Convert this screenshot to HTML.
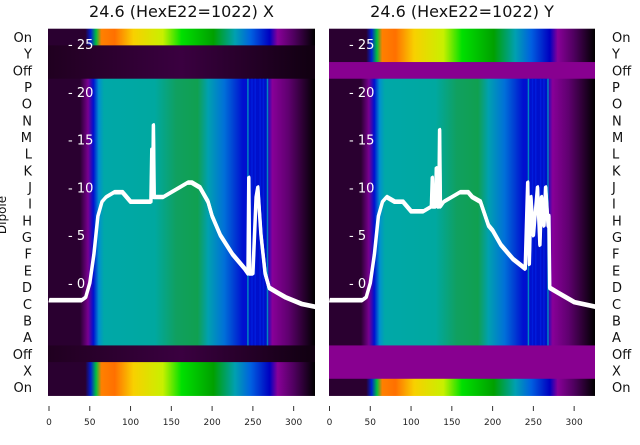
<!DOCTYPE html>
<html><head><meta charset="utf-8"><style>
body{margin:0;background:#fff;font-family:"Liberation Sans","DejaVu Sans",sans-serif}
svg text{font-family:"DejaVu Sans","Liberation Sans",sans-serif}
</style></head><body>
<svg id="c" width="640" height="440" viewBox="0 0 640 440">
<defs>
<linearGradient id="gMain" x1="0" x2="1">
<stop offset="0" stop-color="#2a0030"/><stop offset="0.12" stop-color="#2a0030"/><stop offset="0.15" stop-color="#780090"/>
<stop offset="0.17" stop-color="#0010d0"/><stop offset="0.19" stop-color="#0090d0"/><stop offset="0.21" stop-color="#00a8a8"/>
<stop offset="0.4" stop-color="#00a8a0"/><stop offset="0.48" stop-color="#10a060"/><stop offset="0.56" stop-color="#10a050"/>
<stop offset="0.6" stop-color="#00a0b0"/><stop offset="0.66" stop-color="#0070d8"/><stop offset="0.73" stop-color="#0010d0"/>
<stop offset="0.82" stop-color="#0010c8"/><stop offset="0.84" stop-color="#880098"/><stop offset="0.9" stop-color="#600070"/><stop offset="1" stop-color="#000"/>
</linearGradient>
<linearGradient id="gHot" x1="0" x2="1">
<stop offset="0" stop-color="#2a0030"/><stop offset="0.14" stop-color="#2a0030"/><stop offset="0.16" stop-color="#0020d0"/>
<stop offset="0.18" stop-color="#00c040"/><stop offset="0.2" stop-color="#ff8000"/><stop offset="0.25" stop-color="#ff7000"/>
<stop offset="0.32" stop-color="#f8d000"/><stop offset="0.43" stop-color="#c8f000"/><stop offset="0.5" stop-color="#00e000"/>
<stop offset="0.62" stop-color="#00a000"/><stop offset="0.7" stop-color="#00a0b0"/><stop offset="0.76" stop-color="#0060e0"/>
<stop offset="0.83" stop-color="#0000c0"/><stop offset="0.86" stop-color="#880098"/><stop offset="0.92" stop-color="#500060"/><stop offset="1" stop-color="#000"/>
</linearGradient>
<linearGradient id="gOff" x1="0" x2="1">
<stop offset="0" stop-color="#200020"/><stop offset="0.5" stop-color="#3a0040"/><stop offset="1" stop-color="#100010"/>
</linearGradient>
</defs>
<g id="panels"></g>
</svg>
<script>
const rowLabels=["On","Y","Off","P","O","N","M","L","K","J","I","H","G","F","E","D","C","B","A","Off","X","On"];
const xTicks=[0,50,100,150,200,250,300];
const yTicks=[0,5,10,15,20,25];
const leftRowKinds=["hot","off","off","m","m","m","m","m","m","m","m","m","m","m","m","m","m","m","m","off","hot","hot"];
const rightRowKinds=["hot","hot","purple","m","m","m","m","m","m","m","m","m","m","m","m","m","m","m","m","purple","purple","hot"];
const leftX=[0,40,45,50,55,60,65,70,80,90,100,110,125,126,127,128,129,130,140,150,160,170,175,185,195,200,210,225,240,244,245,246,250,254,256,260,265,270,280,290,310,327];
const leftY=[-1.8,-1.8,-1.5,0,3,7,8.5,9,9.5,9.5,8.5,8.5,8.5,14,9,16.5,9,9,9,9.5,10,10.5,10.5,10,8.5,7,5,3,1.5,1,11,1,1,9,10,5,1,-0.5,-1,-1.5,-2.2,-2.5];
const rightX=[0,40,45,50,55,60,65,70,80,90,100,115,125,126,127,130,131,133,134,135,136,140,150,160,170,175,185,195,200,210,225,240,243,245,247,250,255,258,260,263,265,268,269,270,280,300,327];
const rightY=[-1.8,-1.8,-1.5,0,3,7,8.5,9,8.5,8.5,7.5,7.5,8,11,8,8,12,8,8,16,8,8.5,9,9.5,9.5,9,8.5,6,5.5,4,2.5,1.5,10.5,2,9,5,10,4,9,6,10,6,7,-0.5,-1,-2,-2.5];
const NS="http://www.w3.org/2000/svg";
const g=document.getElementById('panels');
function mk(t,a,p){const e=document.createElementNS(NS,t);for(const k in a)e.setAttribute(k,a[k]);(p||g).appendChild(e);return e;}
const top0=28.7,rowH=16.67;
function panel(side,px0,pxEnd,sx0,kinds,lx,ly,title){
  const sx=v=>sx0+v*0.8155;
  const sy=v=>283-v*9.56;
  const pg=mk('g',{});
  
  
  kinds.forEach((k,i)=>{
    const fill=k==="hot"?"url(#gHot)":k==="off"?"url(#gOff)":k==="purple"?"#880090":"url(#gMain)";
    const r=mk('rect',{x:px0,y:top0+i*rowH,width:pxEnd-px0,height:rowH+0.5,fill:fill},pg);
    
    
  });
  [243,248,252,258,262,267].forEach(v=>{const r=mk('rect',{x:sx(v),y:top0+3*rowH,width:1.5,height:16*rowH,fill:v%2?"#00a0c0":"#0020e0",opacity:0.8},pg);});
  [[-1.3,0.5],[0,0],[1.3,-0.4]].forEach((o,j)=>{
    const pts=lx.map((v,i)=>(sx(v)+o[1]).toFixed(1)+','+(sy(ly[i])+o[0]).toFixed(1)).join(' ');
    const pl=mk('polyline',{points:pts,fill:'none',stroke:'#fff','stroke-width':j==1?3.5:2,'stroke-linejoin':'round'},pg);
    
    
  });
  yTicks.forEach(v=>{
    const t=mk('text',{x:px0+20,y:sy(v)+5,fill:'#fff','font-size':13},pg);t.textContent='- '+v;
    
  });
  xTicks.forEach(v=>{
    mk('line',{x1:sx(v),x2:sx(v),y1:406,y2:411,stroke:'#333'},pg);
    const t=mk('text',{x:sx(v),y:425,'text-anchor':'middle','font-size':9,fill:'#222'},pg);t.textContent=v;
    
  });
  const tt=mk('text',{x:(px0+pxEnd)/2,y:17,'text-anchor':'middle','font-size':16,fill:'#111'},pg);tt.textContent=title;
  
}
panel('left',48,315,49,leftRowKinds,leftX,leftY,'24.6 (HexE22=1022) X');
panel('right',329,595,329.5,rightRowKinds,rightX,rightY,'24.6 (HexE22=1022) Y');
rowLabels.forEach((l,i)=>{
  const y=top0+i*rowH+rowH/2+5;
  const a=mk('text',{x:32,y:y,'text-anchor':'end','font-size':13,fill:'#111'});a.textContent=l;
  
  const b=mk('text',{x:612,y:y,'font-size':13,fill:'#111'});b.textContent=l;
  
});
const yt=mk('text',{x:6,y:215,'font-size':12,fill:'#111',transform:'rotate(-90 6 215)','text-anchor':'middle'});yt.textContent='Dipole';

</script>
</body></html>
